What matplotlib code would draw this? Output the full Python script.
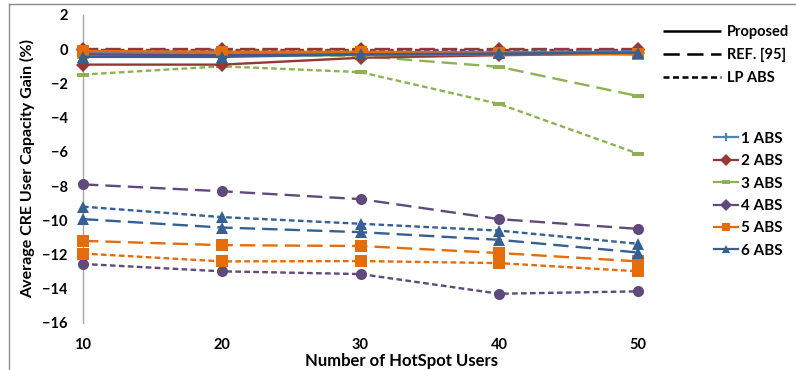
import matplotlib
matplotlib.use("Agg")
import matplotlib.pyplot as plt
from matplotlib.lines import Line2D

plt.rcParams['font.family'] = ['Lato', 'DejaVu Sans']
plt.rcParams['font.weight'] = 'bold'

users = [10, 20, 30, 40, 50]
y_ticks = [2, 0, -2, -4, -6, -8, -10, -12, -14, -16]

# Gain (%) per number of ABS, for each scheme
abs1_proposed = [-0.2, -0.2, -0.2, -0.2, -0.15]
abs1_ref = [-0.15, -0.15, -0.15, -0.15, -0.1]
abs1_lp = [-0.1, -0.1, -0.1, -0.1, -0.1]

abs2_proposed = [-0.9, -0.9, -0.5, -0.35, -0.25]
abs2_ref = [0.0, 0.0, 0.0, 0.0, 0.0]
abs2_lp = [-0.05, -0.05, -0.05, -0.05, -0.05]

abs3_proposed = [-0.4, -0.35, -0.35, -0.3, -0.3]
abs3_ref = [-0.45, -0.3, -0.4, -1.03, -2.74]
abs3_lp = [-1.48, -1.0, -1.34, -3.2, -6.1]

abs4_proposed = [-0.3, -0.35, -0.3, -0.3, -0.25]
abs4_ref = [-7.9, -8.3, -8.76, -9.93, -10.5]
abs4_lp = [-12.55, -12.98, -13.14, -14.29, -14.15]

abs5_proposed = [-0.1, -0.15, -0.15, -0.2, -0.3]
abs5_ref = [-11.2, -11.45, -11.5, -11.91, -12.4]
abs5_lp = [-11.94, -12.4, -12.38, -12.5, -12.98]

abs6_proposed = [-0.45, -0.45, -0.3, -0.25, -0.2]
abs6_ref = [-9.93, -10.42, -10.69, -11.14, -11.88]
abs6_lp = [-9.2, -9.81, -10.2, -10.6, -11.37]

abs_labels = ['1 ABS', '2 ABS', '3 ABS', '4 ABS', '5 ABS', '6 ABS']
scheme_labels = ['Proposed', 'REF. [95]', 'LP ABS']

bar_marker = [(-1, -0.4), (1, -0.4), (1, 0.4), (-1, 0.4), (-1, -0.4)]
styles = [
    dict(color='#4F81BD', marker='+', ms=8, mew=1.5),
    dict(color='#953735', marker='D', ms=7, mew=0),
    dict(color='#8DB251', marker=bar_marker, ms=8, mew=0),
    dict(color='#604A7B', marker='o', ms=8, mew=0),
    dict(color='#E46C0A', marker='s', ms=8, mew=0),
    dict(color='#376092', marker='^', ms=8, mew=0),
]
legend_markers = ['+', 'D', bar_marker, 'D', 's', '^']

series = [
    (abs1_proposed, abs1_ref, abs1_lp),
    (abs2_proposed, abs2_ref, abs2_lp),
    (abs3_proposed, abs3_ref, abs3_lp),
    (abs4_proposed, abs4_ref, abs4_lp),
    (abs5_proposed, abs5_ref, abs5_lp),
    (abs6_proposed, abs6_ref, abs6_lp),
]

dash_styles = [(0, ()), (0, (6.5, 3.0)), (0, (2.4, 1.4))]

fig = plt.figure(figsize=(7.96, 3.70), dpi=100)
ax = fig.add_axes([83 / 796, 1 - 323 / 370, (638 - 83) / 796, (323 - 15) / 370])

# draw the LP and REF lines first, proposed on top near zero
for k in (2, 1, 0):
    for vals, st in zip(series, styles):
        ax.plot(users, vals[k], linestyle=dash_styles[k], lw=1.7,
                clip_on=False, zorder=3, **st)

ax.set_xlim(10, 50)
ax.set_ylim(-16, 2)
ax.set_xticks(users)
ax.set_yticks(y_ticks)
ax.tick_params(length=0, labelsize=10.5)
ax.tick_params(axis='y', pad=11)
ax.tick_params(axis='x', pad=11)
for lab in ax.get_xticklabels() + ax.get_yticklabels():
    lab.set_fontweight('bold')
for side in ('top', 'right', 'bottom'):
    ax.spines[side].set_visible(False)
ax.spines['left'].set_color('#A6A6A6')
ax.spines['left'].set_linewidth(1.0)

ax.set_ylabel('Average CRE User Capacity Gain (%)', fontsize=11.5,
              fontweight='bold', labelpad=5)
fig.text(401 / 796, 1 - 361 / 370, 'Number of HotSpot Users', fontsize=12,
         fontweight='bold', ha='center', va='center')

# scheme legend (line styles)
scheme_handles = [Line2D([0], [0], color='black', lw=1.8, linestyle=ds)
                  for ds in dash_styles]
leg1 = fig.legend(scheme_handles, scheme_labels, loc='upper left',
                  bbox_to_anchor=(650 / 796, 1 - 12 / 370), frameon=False,
                  handlelength=4.0, handletextpad=0.4, labelspacing=0.6,
                  prop=dict(weight='bold', size=10.5))

# ABS legend (colours and markers)
abs_handles = [Line2D([0], [0], color=st['color'], lw=1.6, marker=m,
                      ms=6, mew=st['mew'] if m == '+' else 0)
               for st, m in zip(styles, legend_markers)]
leg2 = fig.legend(abs_handles, abs_labels, loc='upper left',
                  bbox_to_anchor=(700 / 796, 1 - 118 / 370), frameon=False,
                  handlelength=1.6, handletextpad=0.2, labelspacing=0.55,
                  prop=dict(weight='bold', size=11))

# outer chart frame
fig.add_artist(Line2D([9 / 796, 9 / 796], [0, 1 - 4 / 370],
                      transform=fig.transFigure, color='#8C8C8C', lw=1.0))
fig.add_artist(Line2D([9 / 796, 1], [1 - 4 / 370, 1 - 4 / 370],
                      transform=fig.transFigure, color='#8C8C8C', lw=1.0))

fig.savefig('out.png', dpi=100)
